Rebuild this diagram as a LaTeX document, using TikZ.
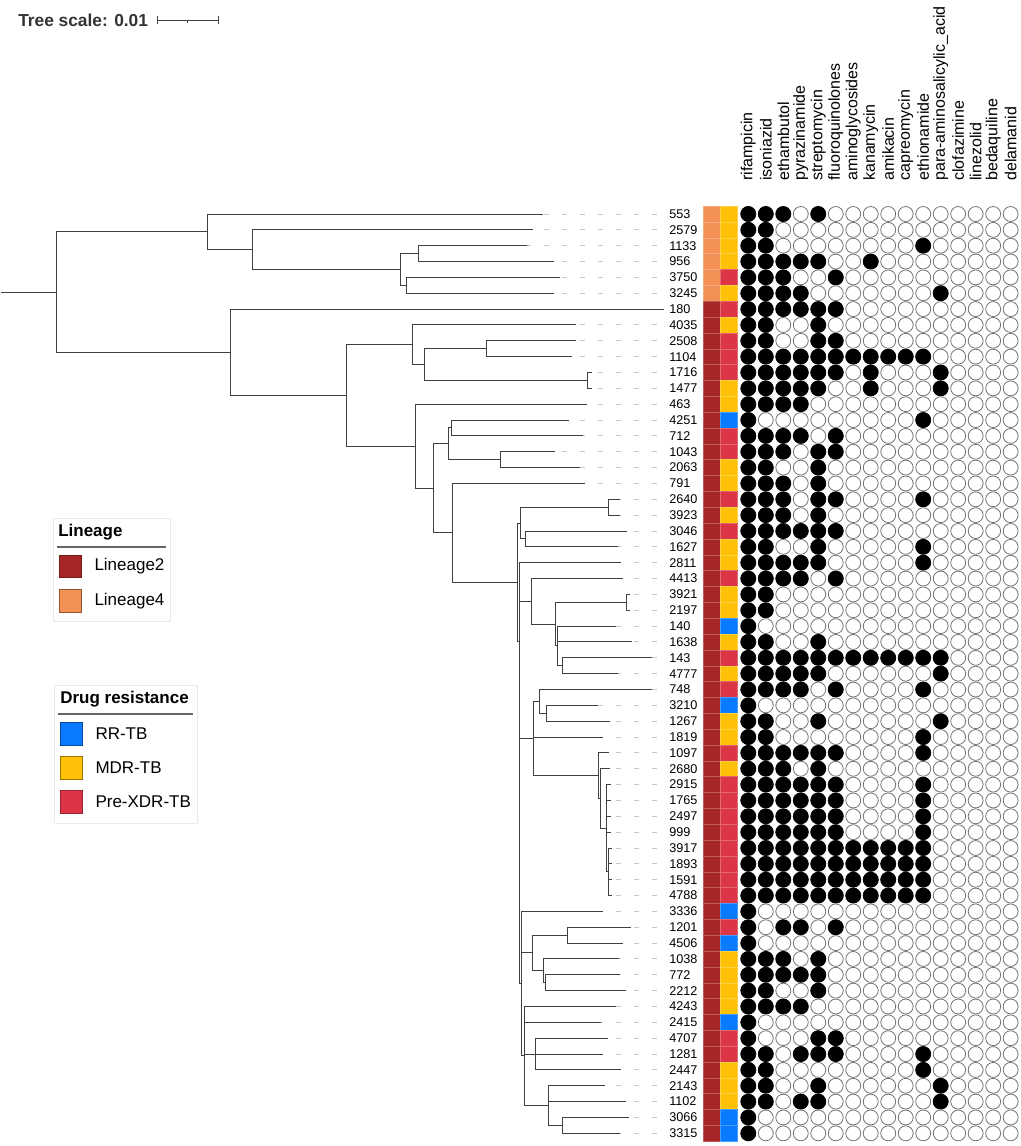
\documentclass[tikz,border=0pt]{standalone}
\usepackage{fontspec}
\setmainfont{Liberation Sans}
\usetikzlibrary{positioning}
\definecolor{lin2}{RGB}{166,38,38}
\definecolor{lin4}{RGB}{243,145,84}
\definecolor{drB}{RGB}{10,123,255}
\definecolor{drY}{RGB}{255,193,7}
\definecolor{drR}{RGB}{220,53,69}
\newcommand{\ry}[1]{214+15.85*(#1)}

\begin{document}
\begin{tikzpicture}[x=0.75pt,y=-0.75pt]

	\tikzstyle{branch} = [draw=black!75, line width=0.75pt]
	\tikzstyle{leafdash} = [draw=black!22, line width=0.75pt, dash pattern=on 3.75pt off 9.75pt]
	\tikzstyle{leaflab} = [anchor=west, inner sep=0pt, font=\fontsize{9.5}{11}\selectfont]
	\tikzstyle{druglab} = [anchor=west, rotate=90, inner sep=0pt, font=\fontsize{12}{14}\selectfont]
	\tikzstyle{stripcell} = [rectangle, inner sep=0pt, minimum width=12.75pt, minimum height=11.9pt, line width=0.3pt]
	\tikzstyle{drugcell} = [circle, draw=black!55, fill=white, line width=0.6pt, inner sep=0pt, minimum size=11.2pt]
	\tikzstyle{drughit} = [circle, draw=black, fill=black, line width=0.6pt, inner sep=0pt, minimum size=11.2pt]
	\tikzstyle{legbox} = [draw=black!8, fill=white, line width=0.75pt]
	\tikzstyle{legrule} = [draw=black!60, line width=0.9pt]
	\tikzstyle{legtitle} = [anchor=west, inner sep=0pt, font=\bfseries\fontsize{12.75}{15}\selectfont]
	\tikzstyle{legswatch} = [rectangle, inner sep=0pt, minimum size=17pt, line width=0.6pt]
	\tikzstyle{legtext} = [anchor=west, inner sep=0pt, font=\fontsize{12.75}{15}\selectfont]

	\useasboundingbox (0,0) rectangle (1021,1146);

	% tree scale
	\node [anchor=west, inner sep=0pt, font=\bfseries\fontsize{13}{15}\selectfont, text=black!80] (treescale) at (18,20) {Tree scale: 0.01};
	\coordinate (sb1) at (157,20);
	\coordinate (sb2) at (218,20);
	\coordinate (sbm) at (187.5,20);
	\draw [branch, line width=0.6pt] (sb1) -- (sb2);
	\draw [branch, line width=0.6pt] ([yshift=3pt]sb1) -- ([yshift=-3pt]sb1);
	\draw [branch, line width=0.6pt] ([yshift=3pt]sb2) -- ([yshift=-3pt]sb2);
	\draw [branch, line width=0.6pt] (sbm) -- ([yshift=-2.5pt]sbm);

	% drug names
	\foreach \d [count=\c] in {rifampicin,isoniazid,ethambutol,pyrazinamide,streptomycin,fluoroquinolones,aminoglycosides,kanamycin,amikacin,capreomycin,ethionamide,para-aminosalicylic\_acid,clofazimine,linezolid,bedaquiline,delamanid}
		\node [druglab] (drug\c) at ({748.3+17.49*(\c-1)},181) {\d};

	% leaves, strips, matrix
	\foreach \lab/\tip/\lin/\dr/\hits [count=\i from 0] in {
		553/543/4/Y/{1,2,3,5}, 2579/533/4/Y/{1,2}, 1133/527/4/Y/{1,2,11},
		956/554/4/Y/{1,2,3,4,5,8}, 3750/560/4/R/{1,2,3,6}, 3245/554/4/Y/{1,2,3,4,12},
		180/664/2/R/{1,2,3,4,5,6}, 4035/576/2/Y/{1,2,5}, 2508/576/2/R/{1,2,5,6},
		1104/572/2/R/{1,2,3,4,5,6,7,8,9,10,11}, 1716/592/2/R/{1,2,3,4,5,6,8,12},
		1477/592/2/Y/{1,2,3,4,5,8,12}, 463/587/2/Y/{1,2,3,4}, 4251/569/2/B/{1,11},
		712/583/2/R/{1,2,3,4,6}, 1043/555/2/R/{1,2,3,5,6}, 2063/580/2/Y/{1,2,5},
		791/585/2/Y/{1,2,3,5}, 2640/620/2/R/{1,2,3,5,6,11}, 3923/620/2/Y/{1,2,3,5},
		3046/627/2/R/{1,2,3,4,5,6}, 1627/618/2/Y/{1,2,5,11}, 2811/621/2/Y/{1,2,3,4,5,11},
		4413/623/2/R/{1,2,3,4,6}, 3921/630/2/Y/{1,2}, 2197/630/2/Y/{1,2},
		140/616/2/B/{1}, 1638/632/2/Y/{1,2,5}, 143/652/2/R/{1,2,3,4,5,6,7,8,9,10,11,12},
		4777/618/2/Y/{1,2,3,4,5,12}, 748/652/2/R/{1,2,3,4,6,11}, 3210/598/2/B/{1},
		1267/610/2/Y/{1,2,5,12}, 1819/603/2/Y/{1,2,11}, 1097/609/2/R/{1,2,3,4,5,6,11},
		2680/610/2/Y/{1,2,3,5}, 2915/611/2/R/{1,2,3,4,5,6,11}, 1765/611/2/R/{1,2,3,4,5,6,11},
		2497/611/2/R/{1,2,3,4,5,6,11}, 999/611/2/R/{1,2,3,4,5,6,11},
		3917/612/2/R/{1,2,3,4,5,6,7,8,9,10,11}, 1893/612/2/R/{1,2,3,4,5,6,7,8,9,10,11},
		1591/612/2/R/{1,2,3,4,5,6,7,8,9,10,11}, 4788/612/2/R/{1,2,3,4,5,6,7,8,9,10,11},
		3336/603/2/B/{1}, 1201/631/2/R/{1,3,4,6}, 4506/623/2/B/{1},
		1038/619/2/Y/{1,2,3,5}, 772/620/2/Y/{1,2,3,4,5}, 2212/626/2/Y/{1,2,5},
		4243/616/2/Y/{1,2,3,4}, 2415/601/2/B/{1}, 4707/608/2/R/{1,5,6},
		1281/603/2/R/{1,2,4,5,6,11}, 2447/621/2/Y/{1,2,11}, 2143/605/2/Y/{1,2,5,12},
		1102/626/2/Y/{1,2,4,5,12}, 3066/629/2/B/{1}, 3315/620/2/B/{1}} {
		\coordinate (t\lab) at (\tip,{\ry{\i}});
		\coordinate (d\lab) at (657,{\ry{\i}});
		\ifnum\tip<657 \draw [leafdash] (d\lab) -- (t\lab); \fi
		\node [leaflab] (l\lab) at (669,{\ry{\i}}) {\lab};
		\node [stripcell, fill=lin\lin, draw=lin\lin!75!white] (sl\lab) at (711.5,{\ry{\i}}) {};
		\node [stripcell, fill=dr\dr, draw=dr\dr!75!white] (sd\lab) at (728.5,{\ry{\i}}) {};
		\foreach \c in {1,...,16}
			\node [drugcell] (e\lab-\c) at ({748.3+17.49*(\c-1)},{\ry{\i}}) {};
		\foreach \c in \hits
			\node [drughit] (f\lab-\c) at (e\lab-\c) {};
	}

	% internal nodes
	\coordinate (nIn) at (1,{\ry{4.93}});
	\coordinate (nRoot) at (56,{\ry{4.93}});
	\coordinate (nL4) at (207,{\ry{1.125}});
	\coordinate (nA) at (252,{\ry{2.25}});
	\coordinate (nB) at (400,{\ry{3.5}});
	\coordinate (nC) at (418,{\ry{2.5}});
	\coordinate (nD) at (406,{\ry{4.5}});
	\coordinate (nE) at (230,{\ry{8.73}});
	\coordinate (nF) at (346,{\ry{11.45}});
	\coordinate (nI) at (412,{\ry{8.25}});
	\coordinate (nI2) at (424,{\ry{9.5}});
	\coordinate (nG) at (486,{\ry{8.5}});
	\coordinate (nH) at (587,{\ry{10.5}});
	\coordinate (nK) at (415,{\ry{14.65}});
	\coordinate (nL) at (433,{\ry{17.3}});
	\coordinate (nM) at (448,{\ry{14.5}});
	\coordinate (nM1) at (451,{\ry{13.5}});
	\coordinate (nN) at (500,{\ry{15.5}});
	\coordinate (nO) at (452,{\ry{20.1}});
	\coordinate (nP1) at (517,{\ry{23.25}});
	\coordinate (nS) at (520,{\ry{19.5}});
	\coordinate (nQ) at (608,{\ry{18.5}});
	\coordinate (nR) at (525,{\ry{20.5}});
	\coordinate (nP2) at (519,{\ry{26.95}});
	\coordinate (nT) at (531,{\ry{24.44}});
	\coordinate (nU) at (555,{\ry{25.875}});
	\coordinate (nV) at (626,{\ry{24.5}});
	\coordinate (nW) at (557,{\ry{27.25}});
	\coordinate (nX) at (562,{\ry{28.5}});
	\coordinate (nZ) at (533,{\ry{33.1}});
	\coordinate (nZa) at (539,{\ry{30.75}});
	\coordinate (nZb) at (546,{\ry{31.5}});
	\coordinate (nY) at (598,{\ry{35.44}});
	\coordinate (nY2) at (600,{\ry{36.875}});
	\coordinate (nY3) at (606,{\ry{38.75}});
	\coordinate (nY4) at (608,{\ry{41.5}});
	\coordinate (nP3) at (521,{\ry{48.55}});
	\coordinate (nAA) at (532,{\ry{46.6}});
	\coordinate (nAB) at (567,{\ry{45.5}});
	\coordinate (nAC) at (543,{\ry{47.75}});
	\coordinate (nAD) at (545,{\ry{48.5}});
	\coordinate (nDD) at (524,{\ry{53.1}});
	\coordinate (nBB) at (535,{\ry{53}});
	\coordinate (nCC) at (548,{\ry{56.25}});
	\coordinate (nCD) at (562,{\ry{57.5}});

	% branches
	\draw [branch] (nIn) -- (nRoot);
	\foreach \p/\c in {nRoot/nL4, nRoot/nE,
		nL4/t553, nL4/nA, nA/t2579, nA/nB, nB/nC, nB/nD, nC/t1133, nC/t956, nD/t3750, nD/t3245,
		nE/t180, nE/nF, nF/nI, nF/nK, nI/t4035, nI/nI2, nI2/nG, nI2/nH,
		nG/t2508, nG/t1104, nH/t1716, nH/t1477,
		nK/t463, nK/nL, nL/nM, nL/nO, nM/nM1, nM/nN, nM1/t4251, nM1/t712, nN/t1043, nN/t2063,
		nO/t791, nO/nP1, nP1/nS, nP1/nP2, nS/nQ, nS/nR, nQ/t2640, nQ/t3923, nR/t3046, nR/t1627,
		nP2/t2811, nP2/nT, nP2/nZ, nP2/nP3, nT/t4413, nT/nU, nU/nV, nU/nW,
		nV/t3921, nV/t2197, nW/t140, nW/t1638, nW/nX, nX/t143, nX/t4777,
		nZ/nZa, nZ/t1819, nZ/nY, nZa/t748, nZa/nZb, nZb/t3210, nZb/t1267,
		nY/t1097, nY/nY2, nY2/t2680, nY2/nY3, nY3/t2915, nY3/t1765, nY3/t2497, nY3/t999, nY3/nY4,
		nY4/t3917, nY4/t1893, nY4/t1591, nY4/t4788,
		nP3/t3336, nP3/nAA, nP3/nDD, nAA/nAB, nAA/nAC, nAB/t1201, nAB/t4506,
		nAC/t1038, nAC/nAD, nAD/t772, nAD/t2212,
		nDD/t4243, nDD/t2415, nDD/nBB, nDD/nCC, nBB/t4707, nBB/t1281, nBB/t2447,
		nCC/t2143, nCC/t1102, nCC/nCD, nCD/t3066, nCD/t3315}
		\draw [branch] (\p) |- (\c);

	% legend lineage
	\draw [legbox] (53,518) rectangle (170,621);
	\node [legtitle] (lintitle) at (58,532) {Lineage};
	\draw [legrule] (57,547) -- (166,547);
	\node [legswatch, fill=lin2, draw=lin2!70!black] (swL2) at (70.5,566.5) {};
	\node [legswatch, fill=lin4, draw=lin4!60!black, below=8.25pt of swL2] (swL4) {};
	\node [legtext, right=9pt of swL2] (txL2) {Lineage2};
	\node [legtext, right=9pt of swL4] (txL4) {Lineage4};

	% legend drug resistance
	\draw [legbox] (54,685) rectangle (197,823);
	\node [legtitle] (drtitle) at (60,699) {Drug resistance};
	\draw [legrule] (58,714) -- (193,714);
	\node [legswatch, fill=drB, draw=drB!60!black] (swRR) at (71.5,734) {};
	\node [legswatch, fill=drY, draw=drY!60!black, below=7.9pt of swRR] (swMDR) {};
	\node [legswatch, fill=drR, draw=drR!70!black, below=7.9pt of swMDR] (swPre) {};
	\node [legtext, right=9pt of swRR] (txRR) {RR-TB};
	\node [legtext, right=9pt of swMDR] (txMDR) {MDR-TB};
	\node [legtext, right=9pt of swPre] (txPre) {Pre-XDR-TB};

\end{tikzpicture}
\end{document}
